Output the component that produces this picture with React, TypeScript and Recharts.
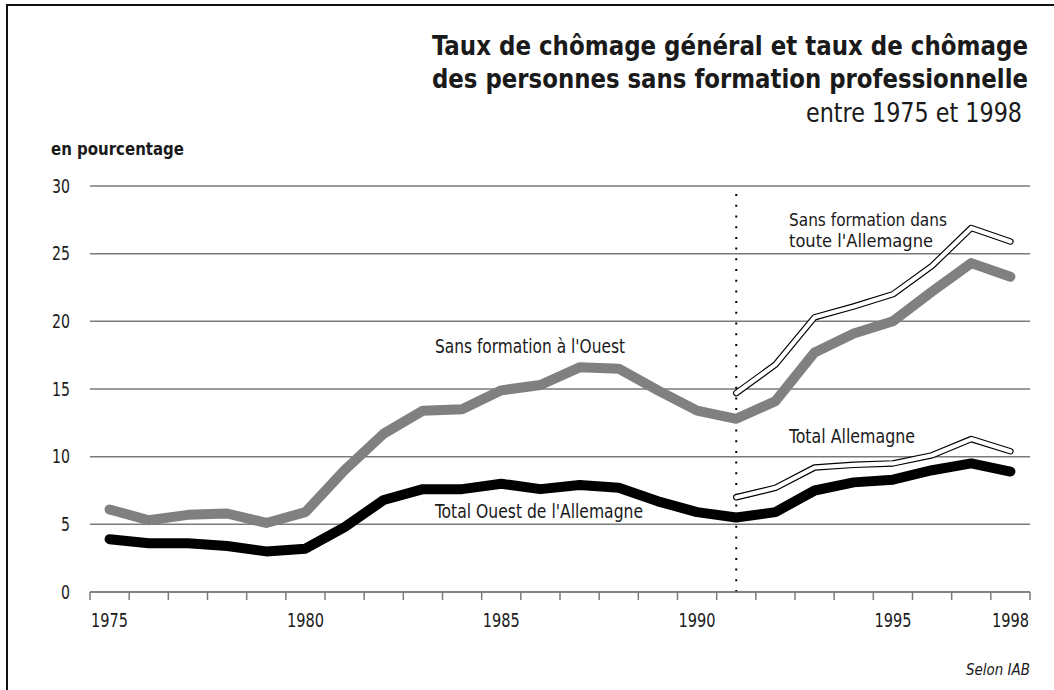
import React from 'react';
import { LineChart, Line, XAxis, YAxis, CartesianGrid, ReferenceLine } from 'recharts';

const years = [1975, 1976, 1977, 1978, 1979, 1980, 1981, 1982, 1983, 1984, 1985, 1986, 1987, 1988, 1989, 1990, 1991, 1992, 1993, 1994, 1995, 1996, 1997, 1998];
const westNoTraining = [6.1, 5.3, 5.7, 5.8, 5.1, 5.9, 9.0, 11.7, 13.4, 13.5, 14.9, 15.3, 16.6, 16.5, 14.9, 13.4, 12.8, 14.1, 17.7, 19.1, 20.0, 22.2, 24.3, 23.3];
const totalWest = [3.9, 3.6, 3.6, 3.4, 3.0, 3.2, 4.8, 6.8, 7.6, 7.6, 8.0, 7.6, 7.9, 7.7, 6.7, 5.9, 5.5, 5.9, 7.5, 8.1, 8.3, 9.0, 9.5, 8.9];
const germanyNoTraining = [null, null, null, null, null, null, null, null, null, null, null, null, null, null, null, null, 14.7, 16.8, 20.3, 21.1, 22.0, 24.1, 26.9, 25.9];
const totalGermany = [null, null, null, null, null, null, null, null, null, null, null, null, null, null, null, null, 7.0, 7.7, 9.2, 9.4, 9.5, 10.1, 11.3, 10.4];
const yTicks = [0, 5, 10, 15, 20, 25, 30];
const labelYears = [1975, 1980, 1985, 1990, 1995, 1998];
const boundaryTicks = [...years.map((y) => y - 0.5), 1998.5];
const reunificationYear = 1991;

const data = years.map((year, i) => ({
  year,
  westNoTraining: westNoTraining[i],
  totalWest: totalWest[i],
  germanyNoTraining: germanyNoTraining[i],
  totalGermany: totalGermany[i],
}));

const xTicks = [...boundaryTicks, ...labelYears].sort((a, b) => a - b);

const FONT = '"DejaVu Sans Condensed", "DejaVu Sans", sans-serif';
const TICK_SIZE = 8;
const TICK_MARGIN = 14;
const GRID = '#7a7a7a';
const TEXT = '#1a1a1a';
const ADJ = 'spacingAndGlyphs';

function XTick(props: any) {
  const { x, y, payload } = props;
  const v = payload.value;
  const axisY = y - TICK_SIZE - TICK_MARGIN;
  if (Number.isInteger(v)) {
    return (
      <text x={x} y={y} dy="0.71em" textAnchor="middle" fill={TEXT} fontSize={19} fontFamily={FONT} textLength={37} lengthAdjust={ADJ}>
        {v}
      </text>
    );
  }
  return <line x1={x} x2={x} y1={axisY} y2={axisY + TICK_SIZE} stroke={GRID} strokeWidth={1.5} />;
}

function YTick(props: any) {
  const { x, y, payload } = props;
  const s = String(payload.value);
  return (
    <text x={x} y={y} dy="0.355em" textAnchor="end" fill={TEXT} fontSize={19} fontFamily={FONT} textLength={s.length * 9} lengthAdjust={ADJ}>
      {s}
    </text>
  );
}

export default function App() {
  return (
    <div style={{ position: 'absolute', left: 0, top: 0, width: 1054, height: 690, background: '#fff' }}>
      <LineChart width={1054} height={690} data={data} margin={{ top: 186, right: 24, bottom: 68, left: 0 }}>
        <CartesianGrid vertical={false} stroke={GRID} strokeWidth={1.5} />
        <XAxis
          dataKey="year"
          type="number"
          domain={[1974.5, 1998.5]}
          ticks={xTicks}
          interval={0}
          tick={<XTick />}
          tickLine={false}
          tickSize={TICK_SIZE}
          tickMargin={TICK_MARGIN}
          axisLine={{ stroke: GRID, strokeWidth: 1.5 }}
          height={30}
        />
        <YAxis
          domain={[0, 30]}
          ticks={yTicks}
          interval={0}
          width={90}
          tickLine={false}
          axisLine={false}
          tickSize={0}
          tickMargin={20}
          tick={<YTick />}
        />
        <ReferenceLine x={reunificationYear} stroke="#000" strokeWidth={2} strokeDasharray="2 8.7" />
        <Line dataKey="westNoTraining" stroke="#808080" strokeWidth={10} dot={false} activeDot={false} strokeLinecap="round" strokeLinejoin="round" isAnimationActive={false} />
        <Line dataKey="totalWest" stroke="#000" strokeWidth={10} dot={false} activeDot={false} strokeLinecap="round" strokeLinejoin="round" isAnimationActive={false} />
        <Line dataKey="germanyNoTraining" stroke="#000" strokeWidth={6.5} dot={false} activeDot={false} strokeLinecap="round" strokeLinejoin="round" isAnimationActive={false} />
        <Line dataKey="totalGermany" stroke="#000" strokeWidth={6.5} dot={false} activeDot={false} strokeLinecap="round" strokeLinejoin="round" isAnimationActive={false} />
        <Line dataKey="germanyNoTraining" stroke="#fff" strokeWidth={4.2} dot={false} activeDot={false} strokeLinecap="round" strokeLinejoin="round" isAnimationActive={false} />
        <Line dataKey="totalGermany" stroke="#fff" strokeWidth={4.2} dot={false} activeDot={false} strokeLinecap="round" strokeLinejoin="round" isAnimationActive={false} />
      </LineChart>
      <svg width={1054} height={690} style={{ position: 'absolute', left: 0, top: 0, pointerEvents: 'none' }}>
        <line x1={7} y1={5} x2={1054} y2={5} stroke="#111" strokeWidth={2} />
        <line x1={7} y1={4} x2={7} y2={690} stroke="#111" strokeWidth={2} />
        <g fontFamily={FONT} fill={TEXT}>
          <text x={1028} y={55} textAnchor="end" fontSize={26.5} fontWeight="bold" textLength={596} lengthAdjust={ADJ}>Taux de chômage général et taux de chômage</text>
          <text x={1028} y={88} textAnchor="end" fontSize={26.5} fontWeight="bold" textLength={596} lengthAdjust={ADJ}>des personnes sans formation professionnelle</text>
          <text x={1022} y={122} textAnchor="end" fontSize={27} textLength={216} lengthAdjust={ADJ}>entre 1975 et 1998</text>
          <text x={51} y={155} fontSize={18} fontWeight="bold" textLength={133} lengthAdjust={ADJ}>en pourcentage</text>
          <text x={435} y={353} fontSize={20} textLength={190} lengthAdjust={ADJ}>Sans formation à l'Ouest</text>
          <text x={435} y={518} fontSize={20} textLength={208} lengthAdjust={ADJ}>Total Ouest de l'Allemagne</text>
          <text x={789} y={226} fontSize={18} textLength={158} lengthAdjust={ADJ}>Sans formation dans</text>
          <text x={789} y={247} fontSize={18} textLength={144} lengthAdjust={ADJ}>toute l'Allemagne</text>
          <text x={789} y={443} fontSize={20} textLength={126} lengthAdjust={ADJ}>Total Allemagne</text>
          <text x={966} y={675} fontSize={15} fontStyle="italic" textLength={64} lengthAdjust={ADJ}>Selon IAB</text>
        </g>
      </svg>
    </div>
  );
}
